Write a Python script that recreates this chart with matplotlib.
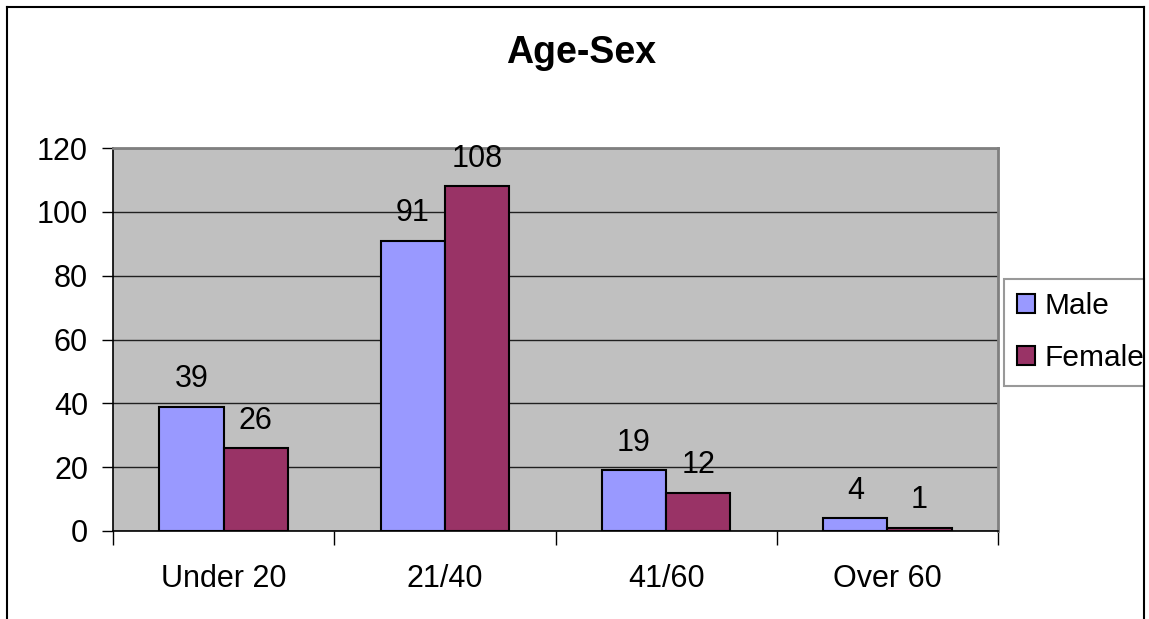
import numpy as np
import matplotlib
matplotlib.use("Agg")
import matplotlib.pyplot as plt
from matplotlib.lines import Line2D

plt.rcParams['font.family'] = ['Liberation Sans', 'DejaVu Sans']

categories = ["Under 20", "21/40", "41/60", "Over 60"]
male = [39, 91, 19, 4]
female = [26, 108, 12, 1]
yticks = [0, 20, 40, 60, 80, 100, 120]

W, H = 1149, 619
fig = plt.figure(figsize=(W / 100, H / 100), dpi=100)

# outer chart border (bottom runs off the picture)
for xs, ys in [([7, 7], [H + 10, 7]), ([7, 1144], [7, 7]), ([1144, 1144], [7, H + 10])]:
    fig.add_artist(Line2D([x / W for x in xs], [1 - y / H for y in ys],
                          color="black", lw=1.5, transform=fig.transFigure, zorder=10))

ax = fig.add_axes([113 / W, 1 - 531 / H, (998 - 113) / W, (531 - 148) / H])
ax.set_facecolor("#C0C0C0")

x = np.arange(len(categories))
bw = 0.29
b1 = ax.bar(x - bw / 2, male, bw, color="#9999FF", edgecolor="black", lw=1.5, label="Male", zorder=3)
b2 = ax.bar(x + bw / 2, female, bw, color="#993366", edgecolor="black", lw=1.5, label="Female", zorder=3)

for bars, vals in [(b1, male), (b2, female)]:
    for b, v in zip(bars, vals):
        ax.annotate(str(v), (b.get_x() + b.get_width() / 2, v), xytext=(0, 9),
                    textcoords="offset points", ha="center", va="bottom", fontsize=22)

ax.set_xlim(-0.5, 3.5)
ax.set_ylim(0, 120)
ax.set_yticks(yticks)
ax.set_yticklabels([str(t) for t in yticks], fontsize=22)
ax.tick_params(axis="y", length=8, width=1, pad=10)
ax.set_xticks(x)
ax.set_xticklabels(categories, fontsize=22)
ax.tick_params(axis="x", length=0, pad=24)
# minor ticks at group boundaries
ax.set_xticks(np.arange(-0.5, 4, 1), minor=True)
ax.tick_params(axis="x", which="minor", length=10, width=1, direction="out")
ax.grid(axis="y", color="#202020", lw=1, zorder=1)

ax.spines["left"].set_color("black")
ax.spines["bottom"].set_color("black")
ax.spines["left"].set_linewidth(1.2)
ax.spines["bottom"].set_linewidth(1.2)
ax.spines["top"].set_color("#808080")
ax.spines["right"].set_color("#808080")
ax.spines["top"].set_linewidth(2)
ax.spines["right"].set_linewidth(2)

fig.text(581 / W, 1 - 53 / H, "Age-Sex", ha="center", va="center", fontsize=27, fontweight="bold")

leg = fig.legend(handles=[b1, b2], loc="upper left",
                 bbox_to_anchor=(1004 / W, 1 - 388 / H, (1144 - 1004) / W, (388 - 279) / H),
                 mode="expand", fontsize=21.5, frameon=True, fancybox=False,
                 handlelength=0.6, handleheight=0.6, handletextpad=0.3,
                 borderpad=0.45, labelspacing=0.8, borderaxespad=0)
leg.get_frame().set_edgecolor("#808080")
leg.get_frame().set_linewidth(1.5)

fig.savefig("out.png", dpi=100)
